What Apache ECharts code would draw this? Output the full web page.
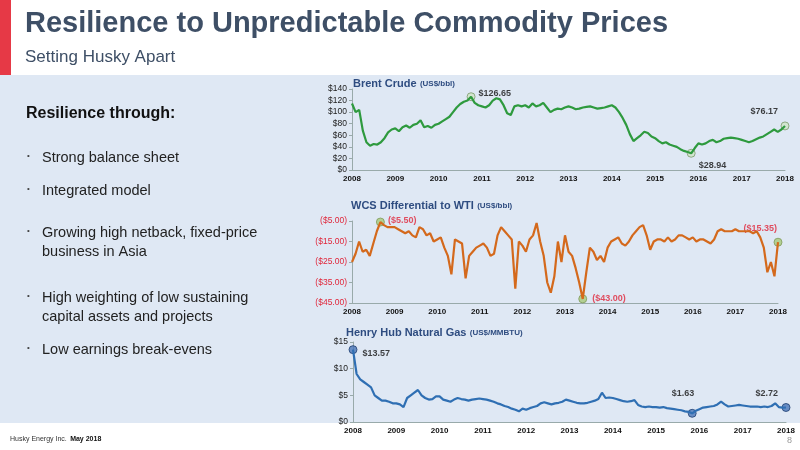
<!DOCTYPE html>
<html>
<head>
<meta charset="utf-8">
<title>Resilience</title>
<script src="https://cdn.jsdelivr.net/npm/echarts@6/dist/echarts.min.js"></script>
<style>body{margin:0}#main{width:800px;height:450px}</style>
</head>
<body>
<div id="main"></div>
<script>
var years = ['2008','2009','2010','2011','2012','2013','2014','2015','2016','2017','2018'];
// monthly values, Jan 2008 .. Jan 2018
var brent = [
  115,100,104,68,48,42,45,44,48,55,65,70,
  72,67,74,77,73,78,80,86,74,76,73,78,
  80,84,88,92,100,108,114,118,120,126.65,116,112,
  110,108,112,120,124,122,112,98,95,110,112,110,
  112,108,115,110,112,116,108,100,104,106,105,108,
  110,108,105,106,108,109,110,108,106,107,108,110,
  112,108,100,90,78,62,50,55,60,66,64,58,
  55,50,46,48,44,42,40,36,33,31,28.94,38,
  46,44,46,50,52,48,50,54,55,56,55,54,
  52,50,48,50,53,56,58,62,66,70,66,70,
  76.17];
var wcs = [
  -25,-21,-15,-20,-19,-22,-16,-10,-5.5,-7,-8,-8,
  -8,-9,-10,-11,-10,-12,-13,-8,-9,-12,-11,-15,
  -14,-13,-18,-22,-31,-14,-15,-16,-33,-22,-20,-18,
  -17,-16,-18,-22,-21,-12,-8,-10,-12,-14,-38,-15,
  -17,-20,-14,-12,-6,-15,-22,-35,-40,-32,-15,-25,
  -12,-20,-22,-28,-35,-43,-30,-18,-20,-24,-22,-25,
  -18,-15,-14,-13,-16,-17,-15,-12,-10,-8,-7,-12,
  -19,-15,-14,-14,-15,-13,-15,-14,-12,-12,-13,-14,
  -13,-15,-14,-14,-15,-16,-14,-10,-9,-10,-10,-10,
  -9,-10,-10,-10,-10,-11,-10,-13,-18,-30,-25,-32,
  -15.35];
var henry = [
  13.57,9,8,7.5,7,6.5,5,4.5,4,4,3.8,3.5,
  3.5,3.3,2.8,4.5,5,5.5,6,5,4.5,4.2,4.3,4.8,
  4.8,4.2,4,3.8,4.2,4.5,4.3,4.2,4,4.2,4.3,4.4,
  4.3,4.2,4,3.8,3.5,3.3,3,2.8,2.5,2.3,2,2.5,
  2.3,2.6,2.8,3,3.5,3.7,3.5,3.3,3.5,3.6,3.8,4.2,
  4,3.8,3.6,3.5,3.5,3.6,3.8,4,4.3,5.5,4.5,4.6,
  4.5,4.3,4.1,3.9,3.8,3.9,4.1,3.2,2.9,2.8,2.9,2.8,
  2.8,2.7,2.8,2.6,2.5,2.4,2.3,2.2,2.0,1.9,1.63,2.1,
  2.4,2.7,2.8,2.9,3,3.3,3.8,3.3,2.9,3,3.1,3.2,
  3.1,3,2.9,2.9,2.9,2.8,2.9,2.8,3,3.5,2.8,2.7,
  2.72];
// month indexes of the annotated points
var brentMarks = [33, 94, 120];
var wcsMarks = [8, 65, 120];
var henryMarks = [0, 94, 120];

function pts(arr) { return arr.map(function (v, i) { return [2008 + i / 12, v]; }); }
function marks(arr, idx) { return idx.map(function (i) { return [2008 + i / 12, arr[i]]; }); }

var chart = echarts.init(document.getElementById('main'));
function xAxis(gi) {
  return {
    type: 'value', gridIndex: gi, min: 2008, max: 2018, interval: 1,
    axisLine: { lineStyle: { color: '#9aa' } }, axisTick: { show: false }, splitLine: { show: false },
    axisLabel: { color: '#111', fontSize: 8, fontWeight: 'bold', fontFamily: 'Arial', margin: 5,
      formatter: function (v) { return years[Math.round(v - 2008)]; } }
  };
}
function yAxis(gi, min, max, itv, fmt, col) {
  return {
    type: 'value', gridIndex: gi, min: min, max: max, interval: itv,
    axisLine: { show: true, lineStyle: { color: '#9aa' } }, axisTick: { show: true, length: 3 }, splitLine: { show: false },
    axisLabel: { color: col || '#222', fontSize: 8.5, fontFamily: 'Arial', margin: 5, formatter: fmt }
  };
}
function lineSeries(gi, arr, col) {
  return { type: 'line', xAxisIndex: gi, yAxisIndex: gi, data: pts(arr), showSymbol: false,
    lineStyle: { color: col, width: 2.2 }, silent: true };
}
function markSeries(gi, arr, idx, fill, stroke, labs, txtCol) {
  return { type: 'scatter', xAxisIndex: gi, yAxisIndex: gi, data: marks(arr, idx), symbolSize: 8,
    itemStyle: { color: fill, borderColor: stroke, borderWidth: 1 },
    label: { show: true, fontSize: 9, fontWeight: 'bold', fontFamily: 'Arial',
      formatter: function (p) { return labs[p.dataIndex].t; },
      position: 'right', color: txtCol },
    labelLayout: function (p) { var l = labs[p.dataIndex]; return { dx: l.dx, dy: l.dy }; } };
}
function money(v) { return '$' + v; }
function paren(v) { return '($' + Math.abs(v).toFixed(2) + ')'; }

var bullets = [
  ['Strong balance sheet', 157],
  ['Integrated model', 190],
  ['Growing high netback, fixed-price\nbusiness in Asia', 232],
  ['High weighting of low sustaining\ncapital assets and projects', 297],
  ['Low earnings break-evens', 349]
];
var rt = { a: { fill: '#2e4c80', font: 'bold 11px Arial' }, b: { fill: '#2e4c80', font: 'bold 8px Arial' } };
var graphic = [
  { type: 'rect', shape: { x: 0, y: 75, width: 800, height: 348 }, style: { fill: '#dfe8f4' }, z: -10 },
  { type: 'rect', shape: { x: 0, y: 0, width: 11, height: 75 }, style: { fill: '#e63946' } },
  { type: 'text', x: 25, y: 9, style: { text: 'Resilience to Unpredictable Commodity Prices', fill: '#3e4f66', font: 'bold 29px Arial' } },
  { type: 'text', x: 25, y: 49, style: { text: 'Setting Husky Apart', fill: '#3e4f66', font: '17px Arial' } },
  { type: 'text', x: 26, y: 106, style: { text: 'Resilience through:', fill: '#111', font: 'bold 16px Arial' } },
  { type: 'text', x: 353, y: 78, style: { rich: rt, text: '{a|Brent Crude} {b|(US$/bbl)}' } },
  { type: 'text', x: 351, y: 200, style: { rich: rt, text: '{a|WCS Differential to WTI} {b|(US$/bbl)}' } },
  { type: 'text', x: 346, y: 327, style: { rich: rt, text: '{a|Henry Hub Natural Gas} {b|(US$/MMBTU)}' } },
  { type: 'text', x: 10, y: 433, style: { rich: { a: { fill: '#333', font: '7px Arial' }, b: { fill: '#111', font: 'bold 7px Arial' } }, text: '{a|Husky Energy Inc.} {b|May 2018}' } },
  { type: 'text', x: 787, y: 436, style: { text: '8', fill: '#999', font: '9px Arial' } }
];
bullets.forEach(function (b) {
  graphic.push({ type: 'text', x: 27, y: b[1] - 5, style: { text: '•', fill: '#444', font: '8px Arial' } });
  graphic.push({ type: 'text', x: 42, y: b[1] - 9, style: { text: b[0], fill: '#222', font: '14.5px Arial', lineHeight: 19 } });
});

chart.setOption({
  animation: false,
  backgroundColor: '#fff',
  graphic: graphic,
  grid: [
    { left: 352, right: 15, top: 89, height: 81 },
    { left: 352, right: 22, top: 221, height: 82 },
    { left: 353, right: 14, top: 342, height: 80 }
  ],
  xAxis: [xAxis(0), xAxis(1), xAxis(2)],
  yAxis: [
    yAxis(0, 0, 140, 20, money),
    yAxis(1, -45, -5, 10, paren, '#e0263a'),
    yAxis(2, 0, 15, 5, money)
  ],
  series: [
    lineSeries(0, brent, '#2e9a3e'),
    lineSeries(1, wcs, '#d4691c'),
    lineSeries(2, henry, '#2f6fb3'),
    markSeries(0, brent, brentMarks, '#cfe3c7', '#7a9a6a', [
      { t: '$126.65', dx: -2, dy: -3 }, { t: '$28.94', dx: -2, dy: 12 }, { t: '$76.17', dx: -44, dy: -14 }], '#111'),
    markSeries(1, wcs, wcsMarks, '#a8c97a', '#809a5a', [
      { t: '($5.50)', dx: -2, dy: -2 }, { t: '($43.00)', dx: 0, dy: 0 }, { t: '($15.35)', dx: -44, dy: -14 }], '#e0263a'),
    markSeries(2, henry, henryMarks, '#4a76b8', '#1f3f70', [
      { t: '$13.57', dx: 0, dy: 4 }, { t: '$1.63', dx: -30, dy: -20 }, { t: '$2.72', dx: -40, dy: -14 }], '#111')
  ]
});
</script>
</body>
</html>
